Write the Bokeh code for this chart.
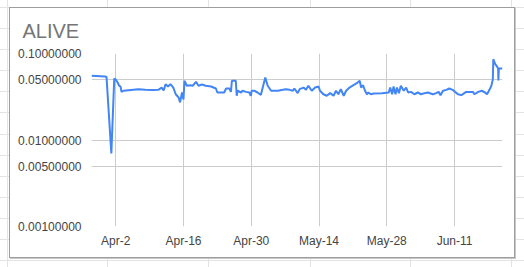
import pandas as pd
from bokeh.plotting import figure
from bokeh.models import (FixedTicker, PrintfTickFormatter, CustomJSTickFormatter, Range1d)
from bokeh.embed import file_html
from bokeh.resources import INLINE

TITLE = "ALIVE"
START = "2022-03-28"
DAY_OFFSET = [0.0, 2.8, 3.1, 4.1, 4.7, 5.0, 5.4, 5.7, 6.0, 6.2, 6.6, 9.7, 11.1, 12.6, 13.8,
              14.5, 14.9, 15.3, 15.8, 16.3, 16.9, 17.4, 18.0, 18.3, 18.7, 19.0, 19.2, 19.7,
              20.4, 20.9, 21.6, 22.1, 22.8, 23.6, 24.7, 25.7, 26.0, 27.4, 27.8, 28.5, 28.8,
              29.0, 29.8, 30.0, 30.2, 30.9, 31.2, 31.9, 32.6, 32.9, 33.1, 33.6, 34.3, 35.0,
              35.2, 35.9, 36.4, 37.1, 38.5, 39.5, 40.2, 40.9, 41.6, 41.9, 42.6, 43.0, 43.8,
              44.3, 44.8, 45.5, 46.2, 46.9, 47.2, 47.9, 48.6, 49.3, 50.0, 50.5, 51.0, 51.5,
              52.1, 52.6, 53.3, 54.1, 54.8, 55.4, 55.7, 56.1, 56.5, 56.9, 57.2, 57.7, 58.3,
              60.0, 61.4, 61.7, 62.1, 62.4, 62.8, 63.1, 63.5, 63.9, 64.5, 65.0, 65.4, 66.0,
              66.7, 67.4, 68.1, 68.8, 69.5, 70.5, 71.2, 71.7, 72.1, 72.6, 73.3, 73.9, 74.6,
              75.1, 75.7, 76.4, 77.4, 78.8, 79.1, 79.9, 80.6, 81.3, 81.7, 82.2, 82.6, 82.9,
              83.0, 83.4, 83.7, 84.0, 84.05, 84.15, 84.9]
PRICE = [0.0552, 0.0542, 0.0536, 0.0070, 0.0514, 0.0500, 0.0462, 0.0424, 0.0415, 0.0360,
         0.0371, 0.0387, 0.0380, 0.0378, 0.0380, 0.0404, 0.0373, 0.0442, 0.0415, 0.0442,
         0.0404, 0.0338, 0.0310, 0.0272, 0.0354, 0.0294, 0.0484, 0.0424, 0.0430, 0.0424,
         0.0471, 0.0424, 0.0438, 0.0424, 0.0415, 0.0394, 0.0354, 0.0354, 0.0394, 0.0394,
         0.0360, 0.0484, 0.0484, 0.0325, 0.0371, 0.0354, 0.0371, 0.0360, 0.0354, 0.0325,
         0.0371, 0.0371, 0.0354, 0.0333, 0.0371, 0.0528, 0.0424, 0.0371, 0.0371, 0.0380,
         0.0387, 0.0380, 0.0371, 0.0394, 0.0348, 0.0387, 0.0404, 0.0380, 0.0424, 0.0371,
         0.0404, 0.0415, 0.0371, 0.0338, 0.0325, 0.0348, 0.0325, 0.0371, 0.0338, 0.0387,
         0.0325, 0.0371, 0.0404, 0.0430, 0.0454, 0.0484, 0.0404, 0.0430, 0.0371, 0.0338,
         0.0354, 0.0338, 0.0345, 0.0348, 0.0354, 0.0404, 0.0338, 0.0415, 0.0338, 0.0404,
         0.0348, 0.0424, 0.0371, 0.0404, 0.0354, 0.0360, 0.0338, 0.0354, 0.0338, 0.0348,
         0.0354, 0.0338, 0.0348, 0.0360, 0.0330, 0.0371, 0.0380, 0.0394, 0.0380, 0.0360,
         0.0338, 0.0330, 0.0360, 0.0360, 0.0338, 0.0360, 0.0371, 0.0354, 0.0338, 0.0380,
         0.0424, 0.0500, 0.0859, 0.0752, 0.0717, 0.0671, 0.0488, 0.0671, 0.0671]
Y_TICKS = [0.001, 0.005, 0.01, 0.05, 0.1]
X_TICK_DATES = ["2022-04-02", "2022-04-16", "2022-04-30", "2022-05-14", "2022-05-28", "2022-06-11"]

dates = pd.Timestamp(START) + pd.to_timedelta(DAY_OFFSET, unit="D")
xticks = [pd.Timestamp(d).value / 1e6 for d in X_TICK_DATES]

FONT = "Liberation Sans"
CELL = "#e2e3e3"

# spreadsheet background + chart box drawn as CSS layers on the plot element
layers = [
    "linear-gradient(#ffffff,#ffffff) 10px 8px / 504px 249px no-repeat",
    "linear-gradient(#9e9e9e,#9e9e9e) 9px 7px / 506px 251px no-repeat",
    "linear-gradient(#c8c8c8,#c8c8c8) 10px 8px / 506px 251px no-repeat",
]
for gx in [7, 107, 208, 310, 410, 511]:
    layers.append(f"linear-gradient({CELL},{CELL}) {gx}px 0px / 1px 267px no-repeat")
for k in range(13):
    gy = round(7 + 21.1 * k)
    layers.append(f"linear-gradient({CELL},{CELL}) 0px {gy}px / 524px 1px no-repeat")
bg = ", ".join(layers) + ", #ffffff"

p = figure(width=524, height=267, x_axis_type="datetime", y_axis_type="log",
           x_range=Range1d(dates[0], dates[-1]), y_range=Range1d(0.001, 0.1),
           output_backend="svg", toolbar_location=None,
           min_border_left=91, min_border_right=22, min_border_top=53, min_border_bottom=41,
           styles={"background": bg})
p.background_fill_color = "white"
p.border_fill_alpha = 0
p.outline_line_color = None

p.title.text = TITLE
p.title.text_font = FONT
p.title.text_font_size = "20px"
p.title.text_font_style = "normal"
p.title.text_color = "#757575"
p.title.align = "left"
p.title.offset = -69
p.title.standoff = 23

p.line(dates, PRICE, line_color="#4285f4", line_width=2)

p.yaxis.ticker = FixedTicker(ticks=Y_TICKS)
p.yaxis.formatter = PrintfTickFormatter(format="%.8f")
p.xaxis.ticker = FixedTicker(ticks=xticks)
p.xaxis.formatter = CustomJSTickFormatter(code="""
const m = ['Jan','Feb','Mar','Apr','May','Jun','Jul','Aug','Sep','Oct','Nov','Dec'];
const d = new Date(tick);
return m[d.getUTCMonth()] + '-' + d.getUTCDate();
""")
for ax in [p.xaxis[0], p.yaxis[0]]:
    ax.axis_line_color = None
    ax.major_tick_line_color = None
    ax.minor_tick_line_color = None
    ax.major_label_text_font = FONT
    ax.major_label_text_font_size = "12px"
    ax.major_label_text_color = "#444444"
p.yaxis.major_label_standoff = 4
p.xaxis.major_label_standoff = 1

p.xgrid.ticker = FixedTicker(ticks=xticks)
p.ygrid.ticker = FixedTicker(ticks=Y_TICKS)
p.grid.grid_line_color = "#cccccc"
p.grid.grid_line_width = 1

open("out.html", "w").write(file_html(p, INLINE))
